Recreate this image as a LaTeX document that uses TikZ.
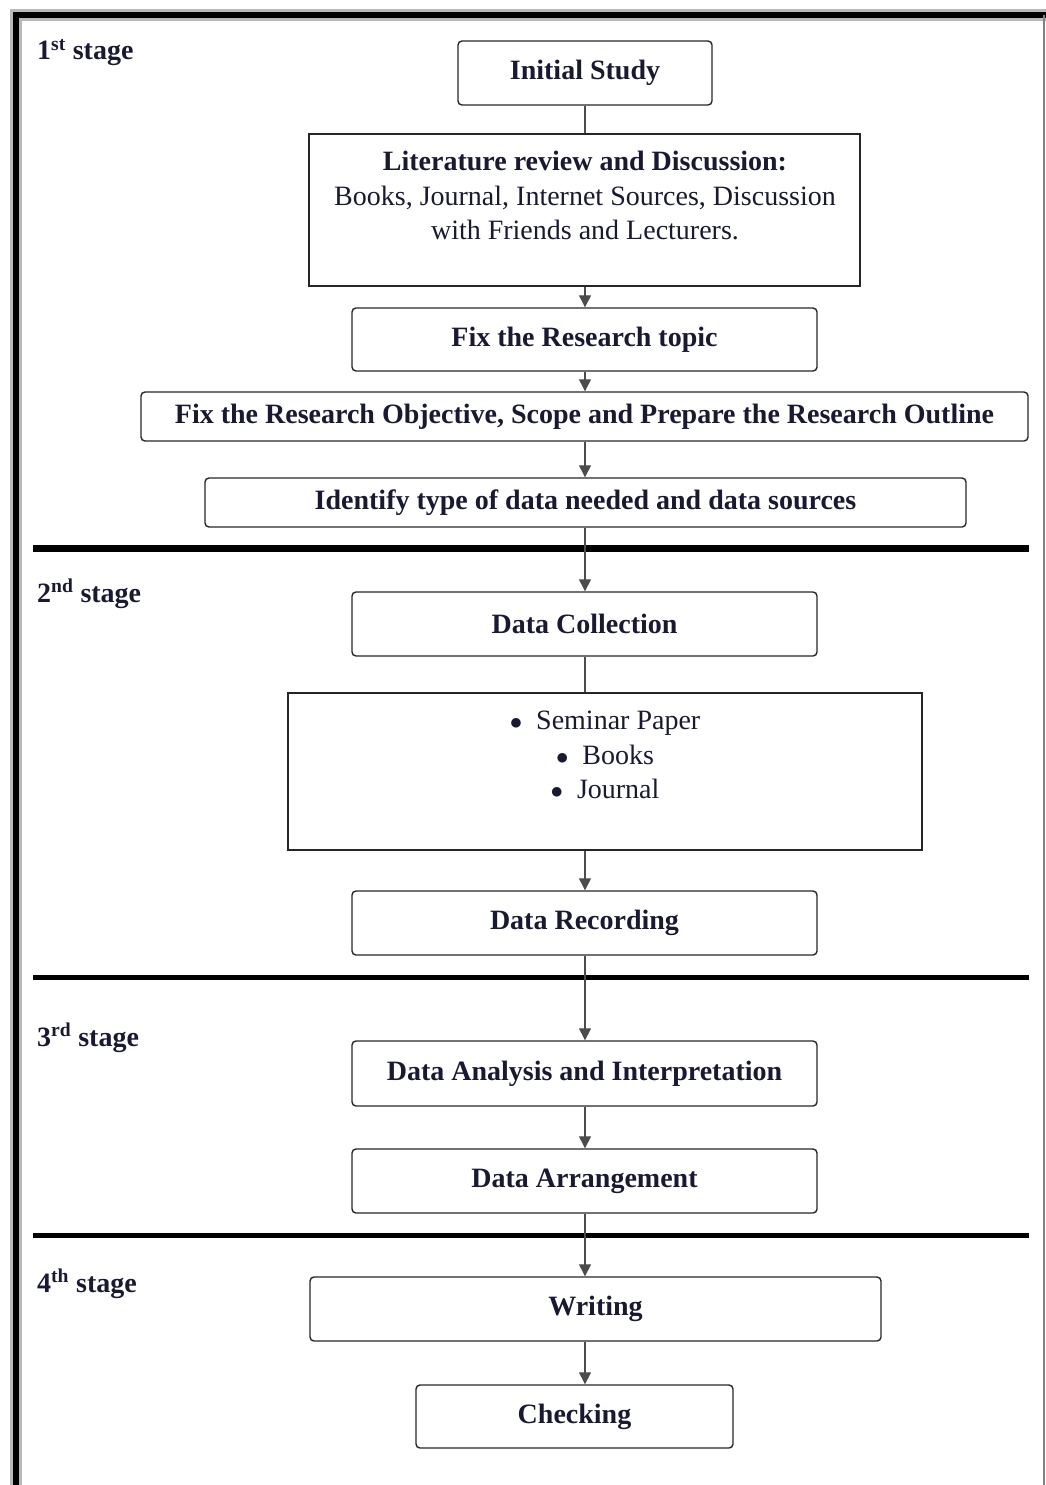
\documentclass[tikz,border=0pt]{standalone}
\usepackage{fontspec}
\setmainfont{Liberation Serif}
\usepackage{tikz}
\usetikzlibrary{arrows.meta,positioning}
\definecolor{ink}{RGB}{25,25,50}
\tikzset{
  box/.style={draw=black!85,line width=1.4pt,align=center,text=ink,
              font=\fontsize{28}{34}\selectfont\bfseries,inner sep=0pt},
  rbox/.style={box,rounded corners=4pt},
  txt/.style={align=center,text=ink,inner sep=0pt,
              font=\fontsize{28}{34.5}\selectfont},
  arr/.style={-{Triangle[length=12pt,width=12pt]},line width=1.3pt,draw=black!70},
  lnk/.style={line width=1.3pt,draw=black!70},
  stage/.style={anchor=base west,text=ink,inner sep=0pt,
                font=\fontsize{28}{34}\selectfont\bfseries},
  sep/.style={line width=5pt},
}
\newcommand{\blt}{$\bullet$\enspace}

\begin{document}
\begin{tikzpicture}[x=1pt,y=-1pt]
\useasboundingbox (0,0) rectangle (1046,1485);

% outer frame
\draw[gray!55,line width=12pt] (16,1485) -- (16,15) -- (1046,15);
\draw[black,line width=5.5pt] (16,1485) -- (16,15) -- (1046,15);
\draw[gray,line width=1.5pt] (1044,15) -- (1044,1485);

% stage separators
\draw[sep,line width=7pt] (33,548) -- (1029,548);
\draw[sep] (33,977) -- (1029,977);
\draw[sep] (33,1235) -- (1029,1235);

% stage labels
\node[stage] (s1) at (37,60) {1\textsuperscript{st} stage};
\node[stage] (s2) at (37,602) {2\textsuperscript{nd} stage};
\node[stage] (s3) at (37,1046) {3\textsuperscript{rd} stage};
\node[stage] (s4) at (37,1292) {4\textsuperscript{th} stage};

% 1st stage
\node[rbox,minimum width=254,minimum height=64] (init) at (585,73) {Initial Study};
\node[box,minimum width=551,minimum height=152] (lit) at (584.5,210) {};
\node[txt,anchor=north] (littxt) at (585,151)
  {\textbf{Literature review and Discussion:}\\
   Books, Journal, Internet Sources, Discussion\\
   with Friends and Lecturers.};
\node[rbox,minimum width=465,minimum height=63] (topic) at (584.5,339.5) {Fix the Research topic};
\node[rbox,minimum width=887,minimum height=49] (obj) at (584.5,416.5)
  {\raisebox{-3pt}{Fix the Research Objective, Scope and Prepare the Research Outline}};
\node[rbox,minimum width=761,minimum height=49] (ident) at (585.5,502.5)
  {\raisebox{-2pt}{Identify type of data needed and data sources}};

% 2nd stage
\node[rbox,minimum width=465,minimum height=64] (coll) at (584.5,624) {Data Collection};
\node[box,minimum width=634,minimum height=157] (src) at (605,771.5) {};
\node[txt,anchor=north] (srctxt) at (605,711)
  {\blt Seminar Paper\\ \blt Books\\ \blt Journal};
\node[rbox,minimum width=465,minimum height=64] (rec) at (584.5,923) {Data Recording};

% 3rd stage
\node[rbox,minimum width=465,minimum height=65] (anal) at (584.5,1073.5) {Data Analysis and Interpretation};
\node[rbox,minimum width=465,minimum height=64] (arrg) at (584.5,1181) {Data Arrangement};

% 4th stage
\node[rbox,minimum width=571,minimum height=64] (writ) at (595.5,1309) {Writing};
\node[rbox,minimum width=317,minimum height=63] (chk) at (574.5,1416.5) {Checking};

% connectors
\coordinate (axis) at (585,0);
\draw[lnk] (init.south) -- (axis |- lit.north);
\draw[arr] (axis |- lit.south) -- (axis |- topic.north);
\draw[arr] (axis |- topic.south) -- (axis |- obj.north);
\draw[arr] (axis |- obj.south) -- (axis |- ident.north);
\draw[arr] (axis |- ident.south) -- (axis |- coll.north);
\draw[lnk] (axis |- coll.south) -- (axis |- src.north);
\draw[arr] (axis |- src.south) -- (axis |- rec.north);
\draw[arr] (axis |- rec.south) -- (axis |- anal.north);
\draw[arr] (axis |- anal.south) -- (axis |- arrg.north);
\draw[arr] (axis |- arrg.south) -- (axis |- writ.north);
\draw[arr] (axis |- writ.south) -- (axis |- chk.north);
\end{tikzpicture}
\end{document}
